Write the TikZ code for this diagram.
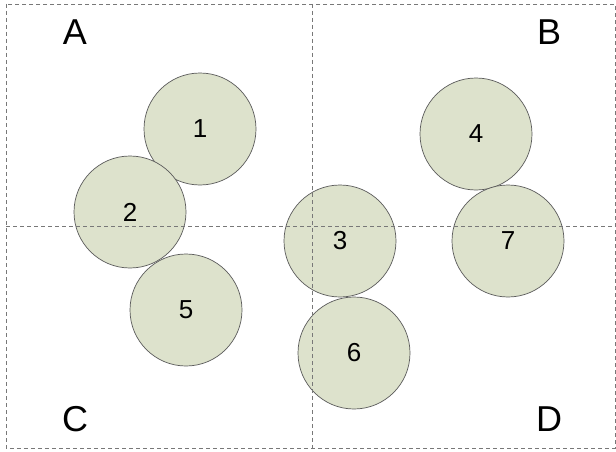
\documentclass[tikz,border=0pt]{standalone}
\usepackage{fontspec}
\setmainfont{Liberation Sans}
\definecolor{cfill}{RGB}{221,226,204}
\definecolor{cline}{RGB}{90,90,90}
\definecolor{dline}{RGB}{120,120,120}
\begin{document}
\begin{tikzpicture}[x=1pt,y=-1pt,
  ball/.style={circle,draw=cline,line width=0.7pt,fill=cfill,minimum size=112pt,inner sep=0pt,font=\fontsize{26}{26}\selectfont},
  quad/.style={font=\fontsize{36}{36}\selectfont,inner sep=0pt},
  grid/.style={dline,line width=0.9pt,dash pattern=on 4pt off 3pt}]
\useasboundingbox[fill=white] (0,0) rectangle (616,452);
\node[ball] (n1) at (200,129) {1};
\node[ball] (n2) at (130,212) {2};
\node[ball] (n5) at (186,310) {5};
\node[ball] (n3) at (340,241) {3};
\node[ball] (n6) at (354,353) {6};
\node[ball] (n4) at (476,134) {4};
\node[ball] (n7) at (508,241) {7};
\coordinate (tl) at (6,4);
\coordinate (br) at (615,448);
\coordinate (vt) at (312,4);
\coordinate (vb) at (312,448);
\coordinate (hl) at (6,226);
\coordinate (hr) at (615,226);
\draw[grid] (tl) rectangle (br);
\draw[grid] (vt) -- (vb);
\draw[grid] (hl) -- (hr);
\node[quad] (qa) at (75,32) {A};
\node[quad] (qb) at (549,32) {B};
\node[quad] (qc) at (75,419) {C};
\node[quad] (qd) at (549,419) {D};
\end{tikzpicture}
\end{document}
